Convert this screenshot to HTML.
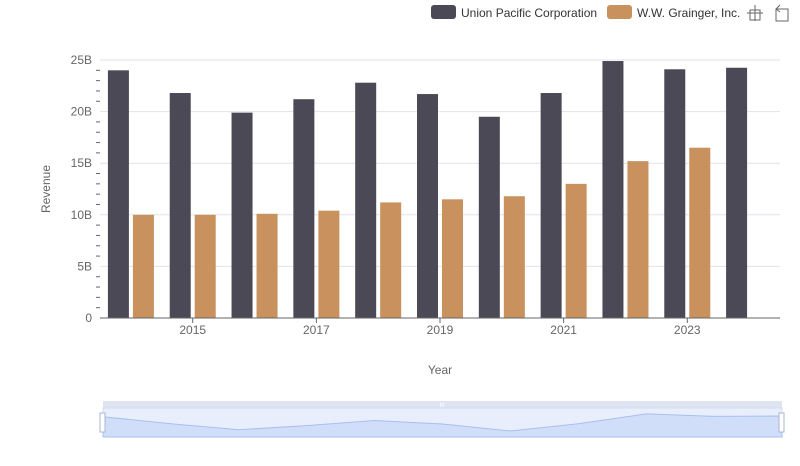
<!DOCTYPE html>
<html><head><meta charset="utf-8"><style>
body{margin:0;background:#fff;font-family:"Liberation Sans",sans-serif}
svg text{font-family:"Liberation Sans",sans-serif}
</style></head><body>
<svg id="c" width="800" height="461">
<g id="legend">
<g><rect x="431" y="5" width="25" height="14" rx="3" fill="#4a4955"/><text x="461" y="17" font-size="12" fill="#333">Union Pacific Corporation</text></g>
<g><rect x="607" y="5" width="25" height="14" rx="3" fill="#c8915e"/><text x="637" y="17" font-size="12" fill="#333">W.W. Grainger, Inc.</text></g>
</g>
<g stroke="#666" fill="none"><path d="M747 13h16M755 5v16M750 10h10v10h-10z"/></g>
<g stroke="#666" fill="none"><path d="M776 9h12v12h-12zM776 9l4-4M776 9l4 3"/></g>
<g id="grid"></g><g id="bars"></g><g id="axes"></g>
<text x="50" y="189" font-size="12" fill="#666" transform="rotate(-90 50 189)" text-anchor="middle">Revenue</text>
<text x="440" y="374" font-size="12" fill="#666" text-anchor="middle">Year</text>
<g>
<rect x="103" y="401" width="679" height="7" fill="#dde3f1"/>
<rect x="103" y="408" width="679" height="29" fill="#e8eefc" stroke="#d5dcec"/>
<path id="dzArea" fill="#d1defa" stroke="#a9bff0"/>
<text x="442" y="407" font-size="6" fill="#fff" text-anchor="middle">III</text>
<rect x="100" y="413" width="5" height="19" fill="#fff" stroke="#a9b5d0"/>
<rect x="779" y="413" width="5" height="19" fill="#fff" stroke="#a9b5d0"/>
</g>
</svg>
<script>
const years=[2014,2015,2016,2017,2018,2019,2020,2021,2022,2023,2024];
const unionPacific=[24.0,21.8,19.9,21.2,22.8,21.7,19.5,21.8,24.9,24.1,24.25];
const grainger=[10.0,10.0,10.1,10.4,11.2,11.5,11.8,13.0,15.2,16.5,null];
const yTicks=[0,5,10,15,20,25];
const yTickLabels=["0","5B","10B","15B","20B","25B"];
const NS="http://www.w3.org/2000/svg";
const x0=100,x1=780,y0=318,yTop=60;
const band=(x1-x0)/years.length;
const ys=v=>y0-(v/25)*(y0-yTop);
const xc=i=>x0+band*(i+0.5);
function mk(tag,a,p){const e=document.createElementNS(NS,tag);for(const k in a)e.setAttribute(k,a[k]);p.appendChild(e);return e;}
const grid=document.getElementById('grid'),bars=document.getElementById('bars'),axes=document.getElementById('axes');
yTicks.forEach((t,i)=>{
 if(t>0){const l=mk('line',{x1:x0,x2:x1,y1:ys(t),y2:ys(t),stroke:'#e0e3ea'},grid);
 
 }
 const tx=mk('text',{x:92,y:ys(t)+4,'font-size':12,fill:'#666','text-anchor':'end'},axes);tx.textContent=yTickLabels[i];
 
 
 if(i<yTicks.length-1){for(let m=1;m<5;m++){mk('line',{x1:96,x2:100,y1:ys(t+m),y2:ys(t+m),stroke:'#666'},axes);}}
});
const bw=21;
years.forEach((y,i)=>{
 const c=xc(i);
 if(unionPacific[i]!=null){const r=mk('rect',{x:c-bw-2,y:ys(unionPacific[i]),width:bw,height:y0-ys(unionPacific[i]),fill:'#4a4955'},bars);
 
 }
 if(grainger[i]!=null){const r=mk('rect',{x:c+2,y:ys(grainger[i]),width:bw,height:y0-ys(grainger[i]),fill:'#c8915e'},bars);
 
 }
 if(y%2==1){mk('line',{x1:c,x2:c,y1:y0,y2:y0+5,stroke:'#666'},axes);
 const t=mk('text',{x:c,y:y0+16,'font-size':12,fill:'#666','text-anchor':'middle'},axes);t.textContent=y;
 
 }
});
const ax=mk('line',{x1:x0,x2:x1,y1:y0,y2:y0,stroke:'#666'},axes);


// data zoom preview of union pacific series
const dx0=103,dx1=782,dyB=437,dyT=410;
const mn=Math.min(...unionPacific),mx=Math.max(...unionPacific);
let d='M'+dx0+' '+dyB;
unionPacific.forEach((v,i)=>{const x=dx0+(dx1-dx0)*i/(years.length-1);const y=dyB-6-(v-mn)/(mx-mn)*(dyB-6-dyT-2)*0.9;d+=' L'+x+' '+y;});
d+=' L'+dx1+' '+dyB+'Z';
document.getElementById('dzArea').setAttribute('d',d);
</script>
</body></html>
